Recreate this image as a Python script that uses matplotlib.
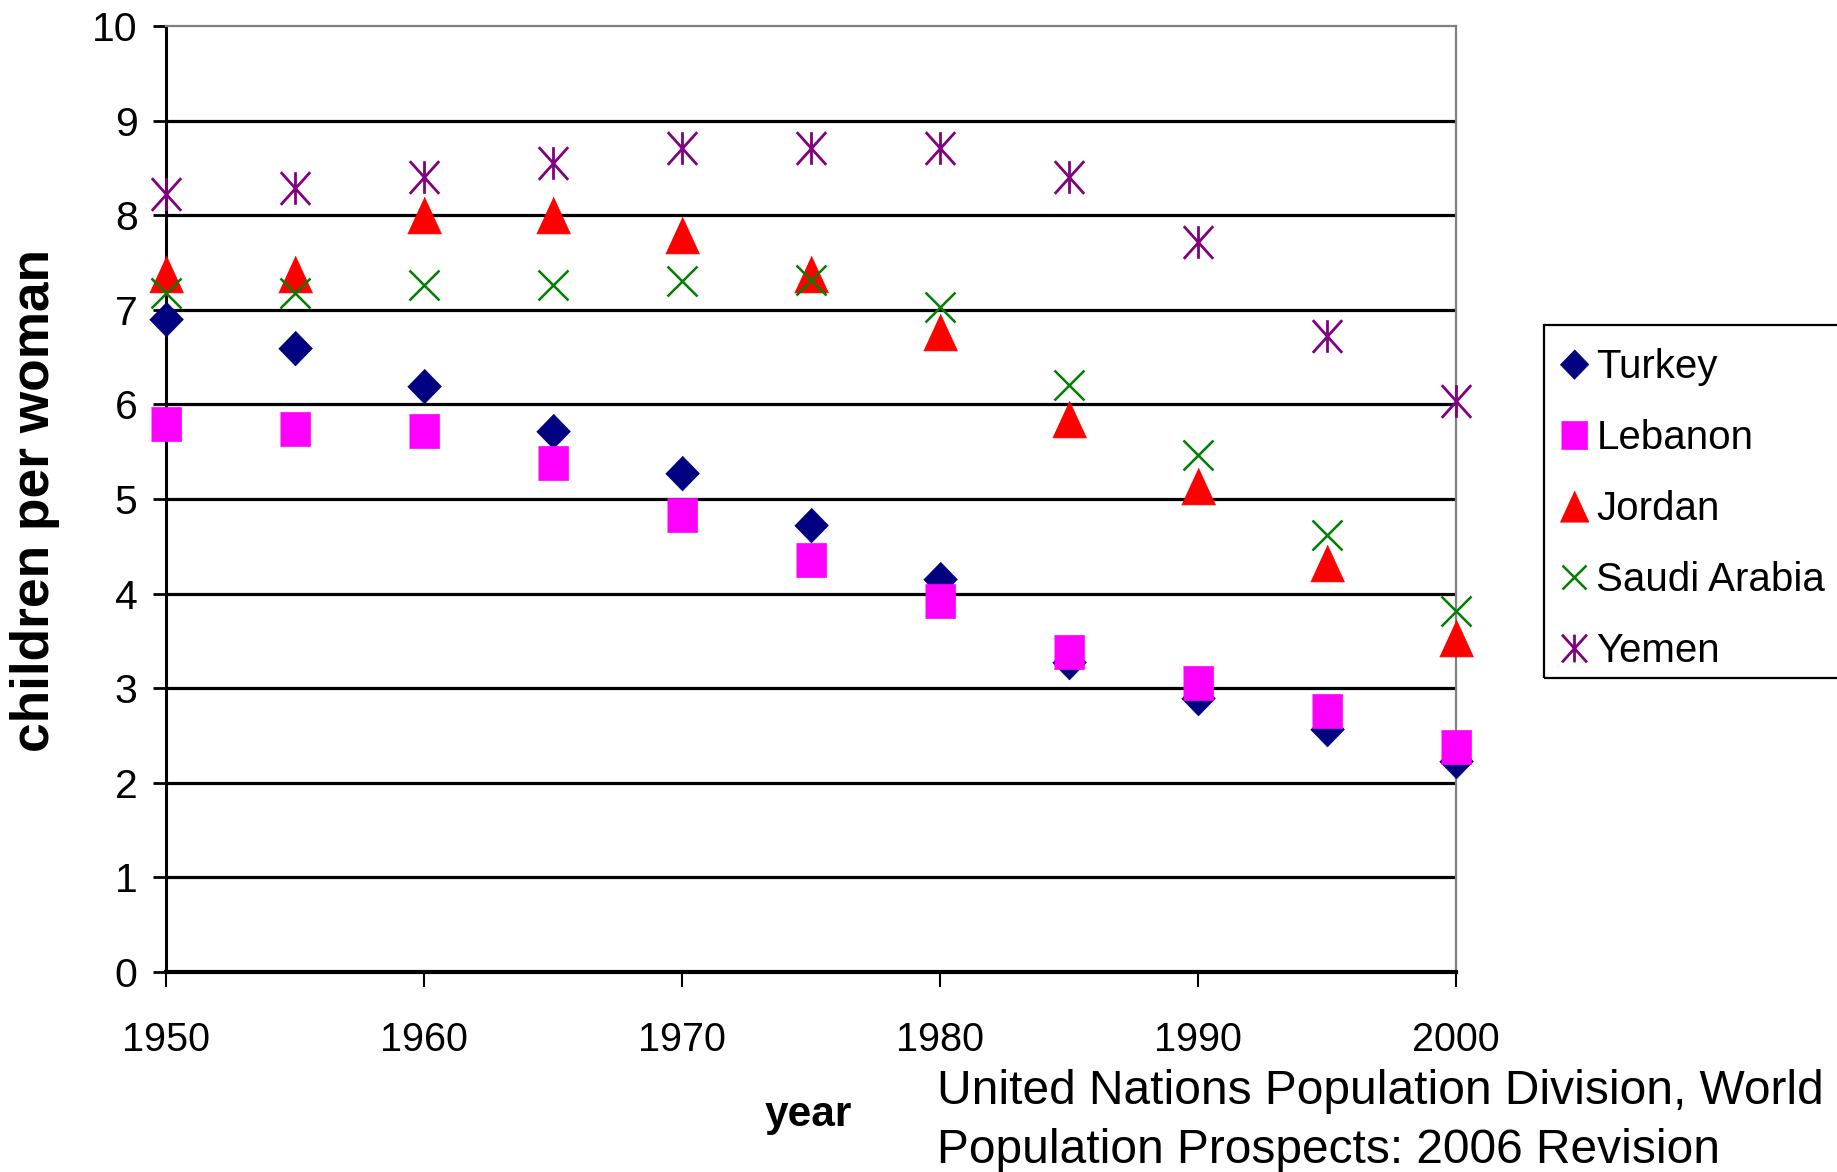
import matplotlib
matplotlib.use("Agg")
import matplotlib.pyplot as plt
from matplotlib.path import Path
from matplotlib.patches import Rectangle

plt.rcParams['font.family'] = ['Liberation Sans', 'DejaVu Sans']

# Total fertility (children per woman), UN World Population Prospects 2006
years = [1950, 1955, 1960, 1965, 1970, 1975, 1980, 1985, 1990, 1995, 2000]
turkey = [6.90, 6.60, 6.19, 5.72, 5.28, 4.72, 4.15, 3.28, 2.90, 2.57, 2.23]
lebanon = [5.79, 5.74, 5.72, 5.38, 4.83, 4.36, 3.92, 3.38, 3.06, 2.76, 2.38]
jordan = [7.38, 7.38, 8.00, 8.00, 7.79, 7.38, 6.77, 5.85, 5.14, 4.32, 3.53]
saudi = [7.18, 7.18, 7.26, 7.26, 7.30, 7.31, 7.03, 6.21, 5.47, 4.62, 3.82]
yemen = [8.22, 8.29, 8.40, 8.55, 8.71, 8.71, 8.71, 8.40, 7.72, 6.72, 6.04]

names = ["Turkey", "Lebanon", "Jordan", "Saudi Arabia", "Yemen"]
colors = ["#000080", "#FF00FF", "#FF0000", "#008000", "#800080"]

x_ticks = [1950, 1960, 1970, 1980, 1990, 2000]
y_ticks = list(range(0, 11))

# marker shapes
diamond = [(0, 1), (0.97, 0), (0, -1), (-0.97, 0)]
rect = [(-0.88, -1), (0.88, -1), (0.88, 1), (-0.88, 1)]
tri = [(0, 1), (0.92, -1), (-0.92, -1)]
star = Path([(-0.9, 1), (0.9, -1), (-0.9, -1), (0.9, 1), (0, 1), (0, -1)],
            [Path.MOVETO, Path.LINETO, Path.MOVETO, Path.LINETO,
             Path.MOVETO, Path.LINETO])

W, H = 1837, 1172
fig = plt.figure(figsize=(W / 100, H / 100), dpi=100)
L, R, T, B = 166, 1456, 26, 972
ax = fig.add_axes([L / W, 1 - B / H, (R - L) / W, (B - T) / H])

ax.set_xlim(1950, 2000)
ax.set_ylim(0, 10)

# horizontal gridlines
for v in y_ticks[1:-1]:
    ax.axhline(v, color="black", lw=2.3, zorder=1)

series = [
    (turkey, dict(marker=diamond, ms=25, mfc=colors[0], mec=colors[0], mew=0.5)),
    (lebanon, dict(marker=rect, ms=24.5, mfc=colors[1], mec=colors[1], mew=0.5)),
    (jordan, dict(marker=tri, ms=26.5, mfc=colors[2], mec=colors[2], mew=0.5)),
    (saudi, dict(marker='x', ms=21, mec=colors[3], mew=1.8)),
    (yemen, dict(marker=star, ms=23.5, mfc='none', mec=colors[4], mew=2.0)),
]
for (vals, style), name in zip(series, names):
    ax.plot(years, vals, linestyle='none', label=name, clip_on=False,
            zorder=3, **style)

for side in ("top", "right"):
    ax.spines[side].set_color("#808080")
    ax.spines[side].set_linewidth(1.6)
ax.spines["left"].set_linewidth(2.2)
ax.spines["bottom"].set_linewidth(3.0)

ax.set_xticks(x_ticks)
ax.set_yticks(y_ticks)
ax.tick_params(axis='y', direction='out', length=9.5, width=2.0, pad=11,
               labelsize=29.5)
ax.tick_params(axis='x', direction='out', length=11, width=1.5, pad=24,
               labelsize=28.5)

fig.text(35 / W, 1 - 501 / H, "children per woman", rotation=90,
         ha='center', va='center', fontsize=38.3, fontweight='bold')
fig.text(808 / W, 1 - 1115 / H, "year", ha='center', va='center',
         fontsize=30.5, fontweight='bold')
fig.text(937 / W, 1 - 1121 / H,
         "United Nations Population Division, World\nPopulation Prospects: 2006 Revision",
         ha='left', va='center', fontsize=34.5, linespacing=1.38)

# legend entries, with its box drawn separately (it runs off the right edge)
fig.legend(loc='upper left', bbox_to_anchor=(1544 / W, 1 - 325 / H),
           borderaxespad=0, fontsize=29, markerscale=0.85,
           handlelength=0.34, handletextpad=0.39, labelspacing=0.82,
           borderpad=0.57, frameon=False)
box_top, box_bottom = 325, 678
fig.patches.append(Rectangle((1544 / W, 1 - box_bottom / H), 400 / W,
                             (box_bottom - box_top) / H,
                             transform=fig.transFigure, fill=False,
                             edgecolor="black", linewidth=1.6))

fig.savefig("out.png", dpi=100)
